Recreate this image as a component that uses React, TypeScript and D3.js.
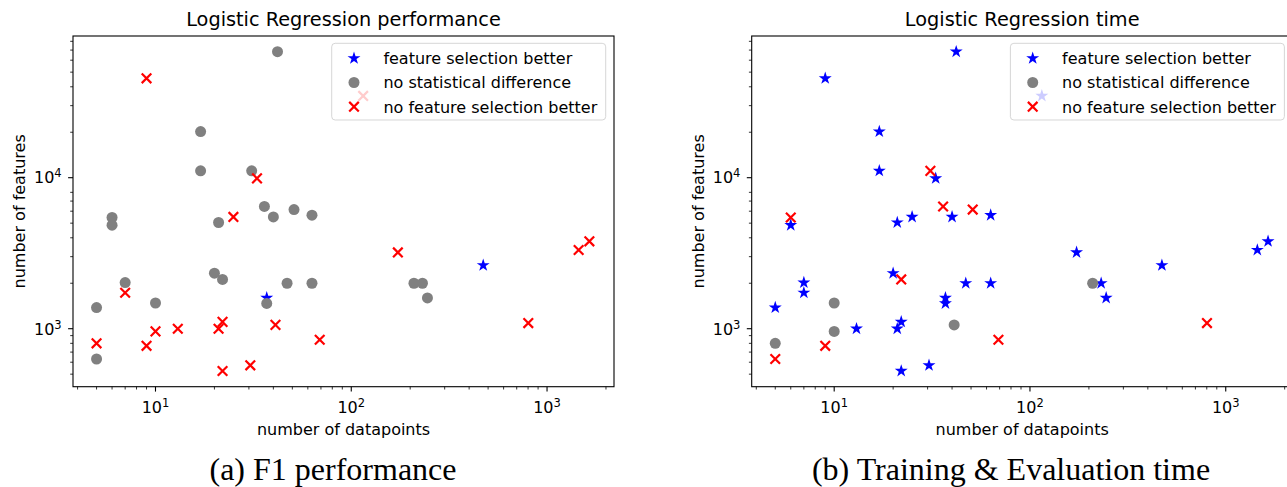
import React from 'react';
import * as d3 from 'd3';

// one entry per dataset
const datapoints = [9, 42, 17, 17, 31, 33, 6, 6, 21, 25, 36, 40, 51, 63, 115, 7, 7, 5, 5, 5, 10, 10, 9, 13, 20, 22, 21, 22, 22, 30.5, 37, 37, 47, 63, 41, 69, 173, 209, 231, 245, 472, 802, 1450, 1645];
const features = [45500, 68300, 20200, 11100, 11100, 9900, 5450, 4850, 5050, 5500, 6450, 5500, 6150, 5650, 34800, 2020, 1730, 1380, 630, 800, 1480, 960, 770, 1000, 2330, 2120, 1000, 1110, 525, 572, 1600, 1470, 2000, 2000, 1060, 845, 3200, 2000, 2000, 1600, 2630, 1090, 3320, 3790];
// fs = feature selection better, ns = no statistical difference, nfs = no feature selection better
const perfResult = ['nfs', 'ns', 'ns', 'ns', 'ns', 'nfs', 'ns', 'ns', 'ns', 'nfs', 'ns', 'ns', 'ns', 'ns', 'nfs', 'ns', 'nfs', 'ns', 'ns', 'nfs', 'ns', 'nfs', 'nfs', 'nfs', 'ns', 'ns', 'nfs', 'nfs', 'nfs', 'nfs', 'fs', 'ns', 'ns', 'ns', 'nfs', 'nfs', 'nfs', 'ns', 'ns', 'ns', 'fs', 'nfs', 'nfs', 'nfs'];
const timeResult = ['fs', 'fs', 'fs', 'fs', 'nfs', 'fs', 'nfs', 'fs', 'fs', 'fs', 'nfs', 'fs', 'nfs', 'fs', 'fs', 'fs', 'fs', 'fs', 'nfs', 'ns', 'ns', 'ns', 'nfs', 'fs', 'fs', 'nfs', 'fs', 'fs', 'fs', 'fs', 'fs', 'fs', 'fs', 'fs', 'ns', 'nfs', 'fs', 'ns', 'fs', 'fs', 'fs', 'nfs', 'fs', 'fs'];

const categories = ['fs', 'ns', 'nfs'];
const legendLabels = ['feature selection better', 'no statistical difference', 'no feature selection better'];
const xDomain = [3.79, 2198];
const yDomain = [413, 86770];
const xMajor = [10, 100, 1000];
const xMinor = [4, 5, 6, 7, 8, 9, 20, 30, 40, 50, 60, 70, 80, 90, 200, 300, 400, 500, 600, 700, 800, 900, 2000];
const yMajor = [1000, 10000];
const yMinor = [500, 600, 700, 800, 900, 2000, 3000, 4000, 5000, 6000, 7000, 8000, 20000, 30000, 40000, 50000, 60000, 70000, 80000];

const panels = [
    {left: 73, title: 'Logistic Regression performance', caption: '(a) F1 performance', capX: 333, result: perfResult},
    {left: 751.7, title: 'Logistic Regression time', caption: '(b) Training & Evaluation time', capX: 1011, result: timeResult},
]

const W = 1287, H = 487
const plotW = 541, top = 36, bottom = 386.7
const sans = 'DejaVu Sans'
const fs = 16

const starPath = d3.symbol(d3.symbolStar, 52)()
const circlePath = d3.symbol(d3.symbolCircle, Math.PI * 5.5 * 5.5)()
const xh = 4.8
const crossPath = `M${-xh},${-xh}L${xh},${xh}M${-xh},${xh}L${xh},${-xh}`

function Marker({cat, x, y}) {
    if (cat === 'fs') return <path d={starPath} transform={`translate(${x},${y})`} fill="blue" />
    if (cat === 'ns') return <path d={circlePath} transform={`translate(${x},${y})`} fill="gray" />
    return <path d={crossPath} transform={`translate(${x},${y})`} stroke="red" strokeWidth={2.2} fill="none" />
}

function Pow({base, exp}) {
    return <>{base}<tspan fontSize={11.5} dy={-6}>{exp}</tspan></>
}

function Panel({p}) {
    const x = d3.scaleLog().domain(xDomain).range([p.left, p.left + plotW])
    const y = d3.scaleLog().domain(yDomain).range([bottom, top])
    const cx = p.left + plotW / 2
    const legX = p.left + plotW - 8.3 - 274
    const legY = 43.3

    return (
        <g>
            <text x={cx} y={26} textAnchor="middle" fontFamily={sans} fontSize={19.3}>{p.title}</text>

            {/* points, one layer per category */}
            {categories.map((c) => (
                <g key={c}>
                    {datapoints.map((d, i) => p.result[i] === c
                        ? <Marker key={i} cat={c} x={x(d)} y={y(features[i])} />
                        : null)}
                </g>
            ))}

            {/* legend */}
            <rect x={legX} y={legY} width={274} height={76.7} rx={3.5} fill="white" fillOpacity={0.8} stroke="#cccccc" strokeOpacity={0.8} />
            {categories.map((c, i) => (
                <g key={c}>
                    <Marker cat={c} x={legX + 22.3} y={legY + 15 + i * 24.2} />
                    <text x={legX + 51.7} y={legY + 20.8 + i * 24.2} fontFamily={sans} fontSize={fs}>{legendLabels[i]}</text>
                </g>
            ))}

            {/* axes */}
            <rect x={p.left} y={top} width={plotW} height={bottom - top} fill="none" stroke="black" strokeWidth={1.1} />
            {xMinor.map((t) => <line key={t} x1={x(t)} x2={x(t)} y1={bottom} y2={bottom + 2.8} stroke="black" strokeWidth={0.8} />)}
            {xMajor.map((t, i) => (
                <g key={t}>
                    <line x1={x(t)} x2={x(t)} y1={bottom} y2={bottom + 4.9} stroke="black" strokeWidth={1.1} />
                    <text x={x(t)} y={412.5} textAnchor="middle" fontFamily={sans} fontSize={fs}><Pow base="10" exp={i + 1} /></text>
                </g>
            ))}
            {yMinor.map((t) => <line key={t} x1={p.left - 2.8} x2={p.left} y1={y(t)} y2={y(t)} stroke="black" strokeWidth={0.8} />)}
            {yMajor.map((t, i) => (
                <g key={t}>
                    <line x1={p.left - 4.9} x2={p.left} y1={y(t)} y2={y(t)} stroke="black" strokeWidth={1.1} />
                    <text x={p.left - 11.3} y={y(t) + 5.8} textAnchor="end" fontFamily={sans} fontSize={fs}><Pow base="10" exp={i + 3} /></text>
                </g>
            ))}

            <text x={cx} y={435} textAnchor="middle" fontFamily={sans} fontSize={fs}>number of datapoints</text>
            <text transform={`translate(${p.left - 48},${(top + bottom) / 2}) rotate(-90)`} textAnchor="middle" fontFamily={sans} fontSize={fs}>number of features</text>

            <text x={p.capX} y={480} textAnchor="middle" fontFamily="Liberation Serif" fontSize={32}>{p.caption}</text>
        </g>
    )
}

export default function App() {
    return (
        <svg width={W} height={H} style={{position: 'absolute', left: 0, top: 0, background: 'white'}}>
            {panels.map((p, i) => <Panel key={i} p={p} />)}
        </svg>
    )
}
